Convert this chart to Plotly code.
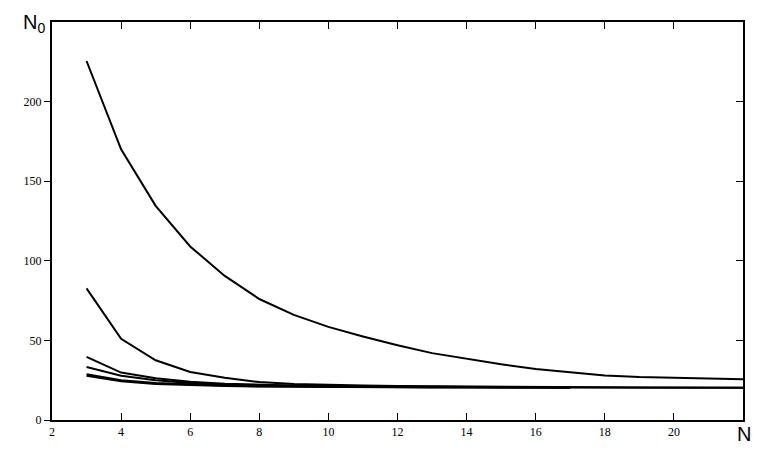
import plotly.graph_objects as go

# N values and N0 curves
n_full = list(range(3, 23))
n_short = list(range(3, 18))

curve1 = [225.5, 170, 134.5, 109, 90.5, 76, 66, 58.5, 52.5, 47, 42, 38.5,
          35, 32, 30, 28, 27, 26.3, 26, 25.6]
curve2 = [82.7, 51, 37.5, 30.2, 26.5, 23.8, 22.6, 22.0, 21.6, 21.3, 21.1, 20.9,
          20.8, 20.7, 20.6, 20.5, 20.4, 20.4, 20.3, 20.3]
curve3 = [39.6, 29.8, 26.2, 24.0, 22.8, 22.0, 21.6, 21.3, 21.1, 20.9, 20.8, 20.7,
          20.6, 20.5, 20.4, 20.4, 20.3, 20.3, 20.2, 20.2]
curve4 = [33.3, 27.8, 25.0, 23.2, 22.3, 21.7, 21.3, 21.1, 20.9, 20.8, 20.7, 20.6,
          20.5, 20.5, 20.4]
curve5 = [28.8, 25.0, 23.2, 22.3, 21.6, 21.2, 21.0, 20.8, 20.7, 20.6, 20.6, 20.5,
          20.5, 20.4, 20.4]
curve6 = [27.8, 24.3, 22.6, 21.8, 21.3, 21.0, 20.8, 20.6, 20.5, 20.5, 20.4, 20.4,
          20.3, 20.3, 20.3]

x_ticks = [2, 4, 6, 8, 10, 12, 14, 16, 18, 20]
y_ticks = [0, 50, 100, 150, 200]

series = [
    (n_full, curve1),
    (n_full, curve2),
    (n_full, curve3),
    (n_short, curve4),
    (n_short, curve5),
    (n_short, curve6),
]

fig = go.Figure()
for xs, ys in series:
    fig.add_trace(go.Scatter(x=xs, y=ys, mode="lines",
                             line=dict(color="black", width=2),
                             showlegend=False, hoverinfo="skip"))

# invisible trace to carry the right-hand axis
fig.add_trace(go.Scatter(x=[2], y=[0], yaxis="y2", mode="markers",
                         marker=dict(opacity=0), showlegend=False,
                         hoverinfo="skip"))

tick_font = dict(family="Liberation Serif", size=12, color="black")

# the page body adds an 8px offset, so the figure is sized 8px smaller
fig.update_layout(
    width=763, height=459,
    margin=dict(l=44, r=28, t=12, b=47),
    paper_bgcolor="white", plot_bgcolor="white",
    xaxis=dict(range=[2, 22], tickvals=x_ticks, ticks="inside", ticklen=7,
               tickcolor="black", tickwidth=1, showline=True, linecolor="black",
               linewidth=2, mirror="ticks", showgrid=False, zeroline=False,
               tickfont=tick_font),
    yaxis=dict(range=[0, 250], tickvals=y_ticks, ticks="outside", ticklen=6,
               tickcolor="black", tickwidth=1, showline=True, linecolor="black",
               linewidth=2, showgrid=False, zeroline=False, tickfont=tick_font),
    yaxis2=dict(range=[0, 250], tickvals=y_ticks + [250], overlaying="y",
                side="right", ticks="inside", ticklen=7, tickcolor="black",
                tickwidth=1, showline=True, linecolor="black", linewidth=2,
                showticklabels=False, showgrid=False, zeroline=False),
    annotations=[
        dict(text="N<sub>0</sub>", xref="paper", yref="paper",
             x=(34 - 52) / 691, y=1 + (20 - 22) / 400,
             xanchor="center", yanchor="middle", showarrow=False,
             font=dict(family="Liberation Sans", size=20, color="black")),
        dict(text="N", xref="paper", yref="paper",
             x=(744 - 52) / 691, y=(420 - 434) / 400,
             xanchor="center", yanchor="middle", showarrow=False,
             font=dict(family="Liberation Sans", size=20, color="black")),
    ],
)

fig.write_html("out.html")
